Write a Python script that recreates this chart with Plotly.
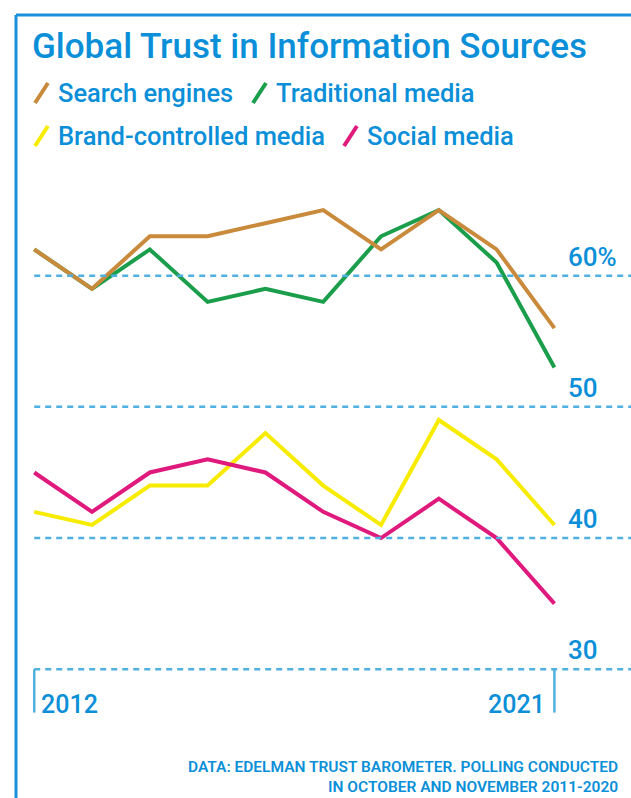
import plotly.graph_objects as go

years = list(range(2012, 2022))
search_engines = [62, 59, 63, 63, 64, 65, 62, 65, 62, 56]
traditional_media = [62, 59, 62, 58, 59, 58, 63, 65, 61, 53]
brand_controlled = [42, 41, 44, 44, 48, 44, 41, 49, 46, 41]
social_media = [45, 42, 45, 46, 45, 42, 40, 43, 40, 35]
grid_values = [60, 50, 40, 30]
grid_labels = ["60%", "50", "40", "30"]
x_labels = ["2012", "2021"]

BLUE = "#0a8fd8"
GRID = "#4fb0e2"
C_SEARCH = "#c98a3c"
C_TRAD = "#1b9e4b"
C_BRAND = "#f7ec00"
C_SOCIAL = "#e0197d"

FONT = "Roboto"

fig = go.Figure()
series = [
    ("Brand-controlled media", brand_controlled, C_BRAND),
    ("Social media", social_media, C_SOCIAL),
    ("Traditional media", traditional_media, C_TRAD),
    ("Search engines", search_engines, C_SEARCH),
]
for name, vals, col in series:
    fig.add_trace(go.Scatter(x=years, y=vals, mode="lines", name=name,
                             line=dict(color=col, width=4), showlegend=False,
                             hoverinfo="skip"))

x0, x1 = 2011.408, 2022.325
y0, y1 = 20.19, 81.01

shapes = []
for gv in grid_values:
    shapes.append(dict(type="line", xref="x", yref="y", x0=years[0], x1=x1,
                       y0=gv, y1=gv, line=dict(color=GRID, width=2.5, dash="6px,5px")))
for xv in [years[0], years[-1]]:
    shapes.append(dict(type="line", xref="x", yref="y", x0=xv, x1=xv,
                       y0=grid_values[-1], y1=grid_values[-1] - 3.3,
                       line=dict(color=GRID, width=2.5)))
shapes.append(dict(type="line", xref="paper", yref="paper", x0=16/631, x1=16/631,
                   y0=0, y1=1 - 15/798, line=dict(color="#1a8fdc", width=3)))
shapes.append(dict(type="line", xref="paper", yref="paper", x0=16/631, x1=1,
                   y0=1 - 15/798, y1=1 - 15/798, line=dict(color="#1a8fdc", width=3)))

legend_items = [
    ("Search engines", C_SEARCH, 33, 93),
    ("Traditional media", C_TRAD, 251, 93),
    ("Brand-controlled media", C_BRAND, 33, 136),
    ("Social media", C_SOCIAL, 342, 136),
]
annotations = []
for name, col, lx, ly in legend_items:
    shapes.append(dict(type="line", xref="paper", yref="paper",
                       x0=(lx + 2) / 631, x1=(lx + 15) / 631,
                       y0=1 - (ly + 10) / 798, y1=1 - (ly - 10) / 798,
                       line=dict(color=col, width=4)))
    annotations.append(dict(text=name, xref="paper", yref="paper",
                            x=(lx + 23) / 631, y=1 - ly / 798, xanchor="left",
                            yanchor="middle", showarrow=False,
                            font=dict(family=FONT, size=25.5, color=BLUE, weight=500)))

annotations.append(dict(text="Global Trust in Information Sources", xref="paper", yref="paper",
                        x=30 / 631, y=1 - 46 / 798, xanchor="left", yanchor="middle",
                        showarrow=False,
                        font=dict(family=FONT, size=35, color=BLUE, weight=500)))
for gv, gl in zip(grid_values, grid_labels):
    annotations.append(dict(text=gl, xref="paper", yref="y", x=566 / 631, y=gv,
                            xanchor="left", yanchor="bottom", yshift=2, showarrow=False,
                            font=dict(family=FONT, size=26, color=BLUE, weight=500)))
annotations.append(dict(text=x_labels[0], xref="x", yref="y", x=years[0], y=grid_values[-1] - 2.7,
                        xanchor="left", yanchor="middle", xshift=5, showarrow=False,
                        font=dict(family=FONT, size=25, color=BLUE, weight=500)))
annotations.append(dict(text=x_labels[1], xref="x", yref="y", x=years[-1], y=grid_values[-1] - 2.7,
                        xanchor="right", yanchor="middle", xshift=-7, showarrow=False,
                        font=dict(family=FONT, size=25, color=BLUE, weight=500)))
annotations.append(dict(text="DATA: EDELMAN TRUST BAROMETER. POLLING CONDUCTED<br>IN OCTOBER AND NOVEMBER 2011-2020",
                        xref="paper", yref="paper", x=619 / 631, y=1 - 757 / 798,
                        xanchor="right", yanchor="top", align="right", showarrow=False,
                        borderpad=0,
                        font=dict(family=FONT, size=15.5, color=BLUE, weight=600)))

fig.update_layout(
    width=631, height=798, autosize=False,
    margin=dict(l=0, r=0, t=0, b=0),
    paper_bgcolor="white", plot_bgcolor="white",
    xaxis=dict(range=[x0, x1], visible=False, fixedrange=True),
    yaxis=dict(range=[y0, y1], visible=False, fixedrange=True),
    shapes=shapes, annotations=annotations,
    showlegend=False,
)
fig.write_html("out.html")
